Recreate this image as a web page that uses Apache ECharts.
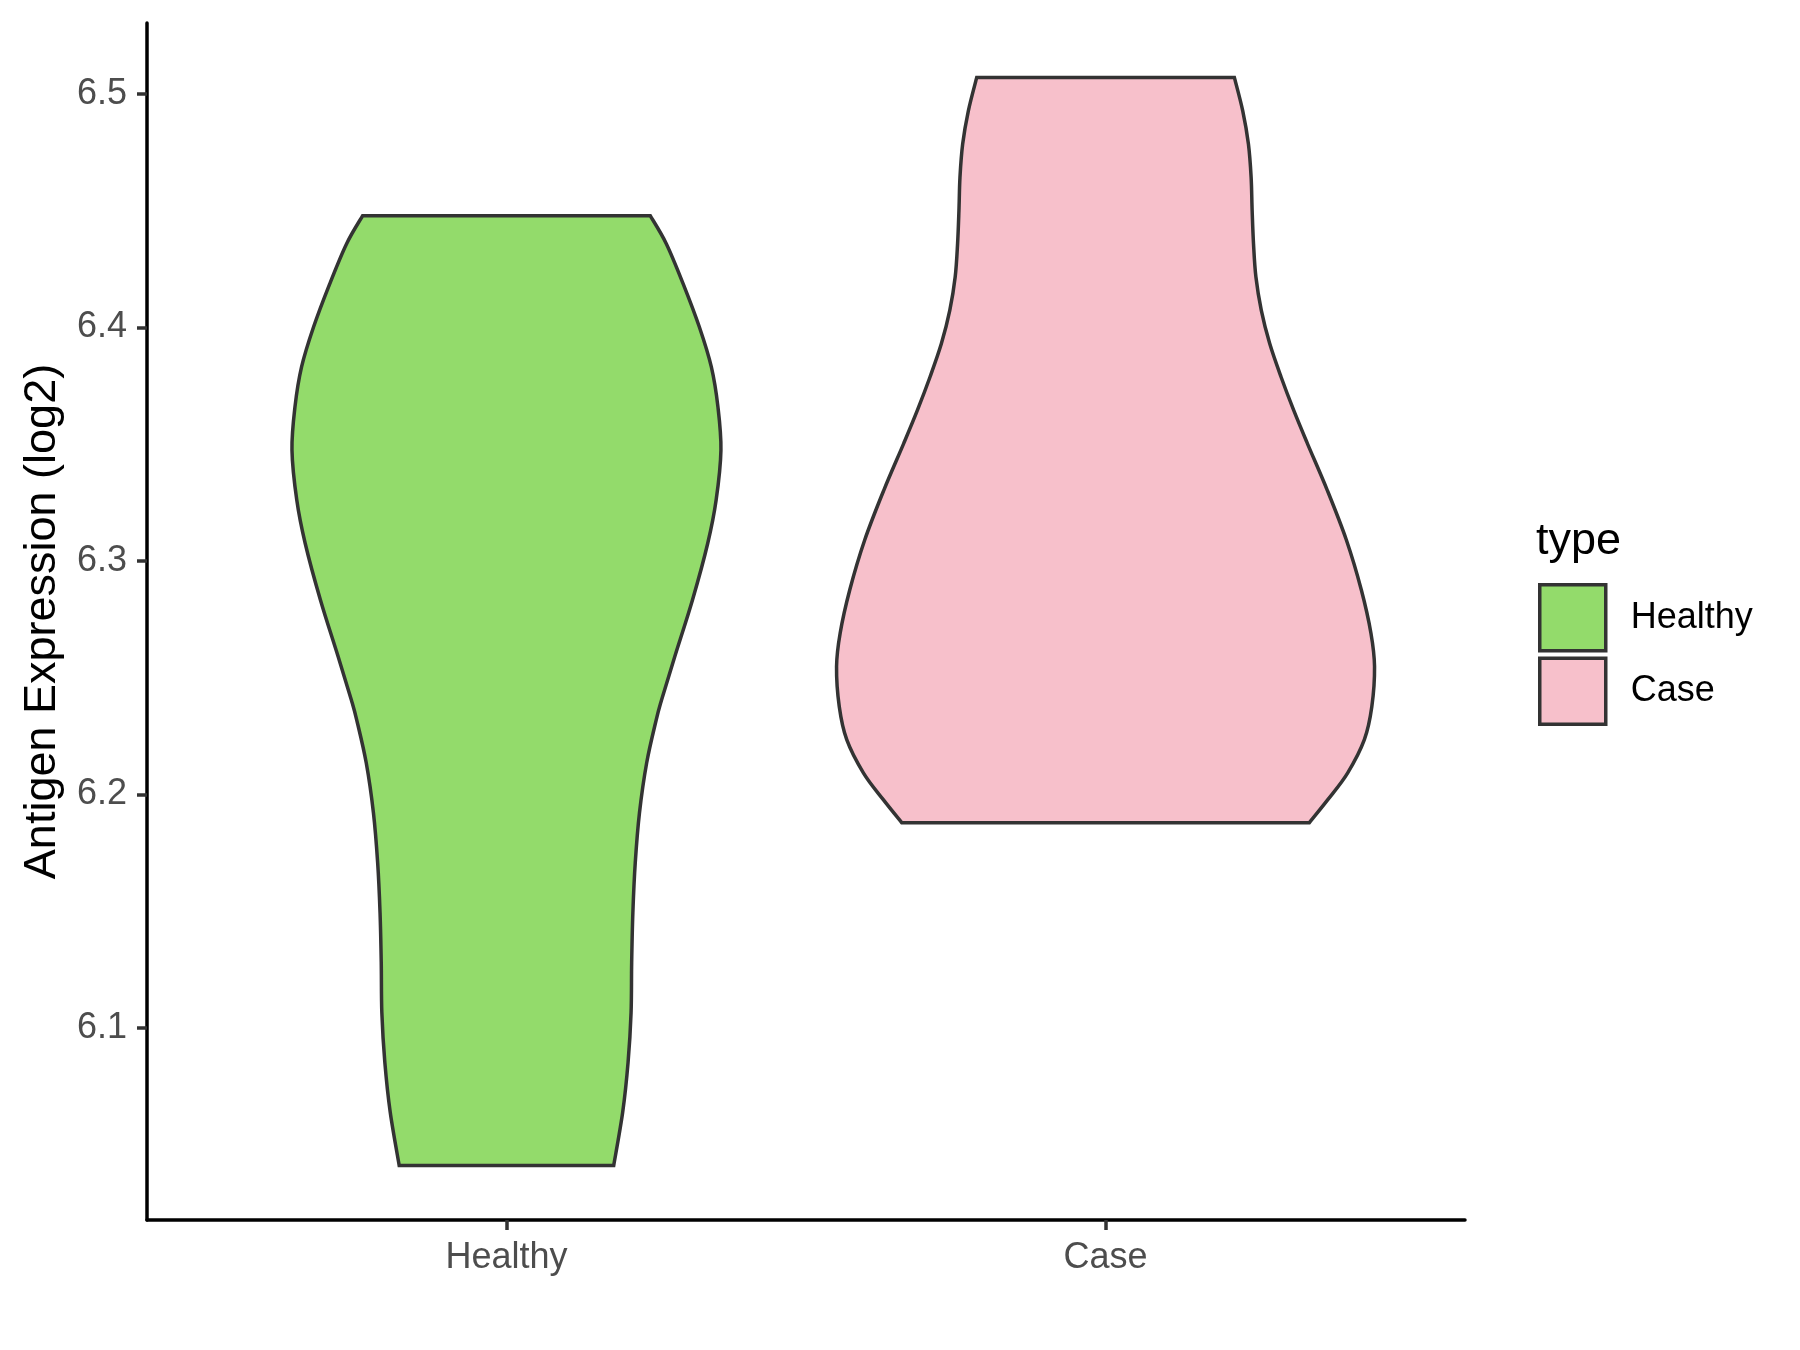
<!DOCTYPE html>
<html>
<head>
<meta charset="utf-8">
<script src="https://cdn.jsdelivr.net/npm/echarts@6/dist/echarts.min.js"></script>
<style>
html,body{margin:0;padding:0;background:#fff;}
#chart{width:1800px;height:1350px;}
</style>
</head>
<body>
<div id="chart"></div>
<script>
const categories = ['Healthy', 'Case'];
const yTicks = [6.1, 6.2, 6.3, 6.4, 6.5];
const colors = ['#93DB6B', '#F7C0CB'];

// Violin outlines: y value and half-width (in category units), top to bottom
const healthyY = [6.4478, 6.4357, 6.4186, 6.4001, 6.3830, 6.3659, 6.3474, 6.3260, 6.3075, 6.2832, 6.2590, 6.2405, 6.2319, 6.2134, 6.1920, 6.1707, 6.1493, 6.1279, 6.1065, 6.0852, 6.0638, 6.0410];
const healthyW = [0.240, 0.267, 0.295, 0.322, 0.342, 0.353, 0.358, 0.350, 0.336, 0.3105, 0.281, 0.259, 0.250, 0.234, 0.222, 0.215, 0.211, 0.209, 0.208, 0.203, 0.194, 0.179];
const caseY = [6.5070, 6.4927, 6.4785, 6.4642, 6.4500, 6.4357, 6.4215, 6.4072, 6.3930, 6.3787, 6.3645, 6.3502, 6.3303, 6.3089, 6.2875, 6.2690, 6.2547, 6.2376, 6.2234, 6.2091, 6.1977, 6.1878];
const caseW = [0.215, 0.229, 0.2385, 0.243, 0.2447, 0.247, 0.251, 0.260, 0.274, 0.293, 0.314, 0.337, 0.370, 0.402, 0.427, 0.443, 0.449, 0.4445, 0.432, 0.404, 0.371, 0.340];

const FONT = "'Liberation Sans', Arial, sans-serif";

function crPath(pts) {
  let d = '';
  const n = pts.length;
  for (let i = 0; i < n - 1; i++) {
    const p0 = pts[Math.max(i - 1, 0)], p1 = pts[i], p2 = pts[i + 1], p3 = pts[Math.min(i + 2, n - 1)];
    const c1 = [p1[0] + (p2[0] - p0[0]) / 6, p1[1] + (p2[1] - p0[1]) / 6];
    const c2 = [p2[0] - (p3[0] - p1[0]) / 6, p2[1] - (p3[1] - p1[1]) / 6];
    d += ' C ' + c1[0] + ' ' + c1[1] + ' ' + c2[0] + ' ' + c2[1] + ' ' + p2[0] + ' ' + p2[1];
  }
  return d;
}

function makeViolin(name, idx, ys, ws, color) {
  const cx = idx + 1;
  const data = ys.map((y, i) => [cx, y, ws[i]]);
  return {
    name: name,
    type: 'custom',
    itemStyle: { color: color, borderColor: '#333', borderWidth: 3.5 },
    data: data,
    renderItem: function (params, api) {
      if (params.dataIndex !== 0) return;
      const left = data.map(p => api.coord([p[0] - p[2], p[1]]));
      const right = data.slice().reverse().map(p => api.coord([p[0] + p[2], p[1]]));
      let d = 'M ' + left[0][0] + ' ' + left[0][1] + crPath(left);
      d += ' L ' + right[0][0] + ' ' + right[0][1] + crPath(right) + ' Z';
      return {
        type: 'path',
        shape: { pathData: d },
        style: { fill: color, stroke: '#333333', lineWidth: 3.5, lineJoin: 'miter' }
      };
    }
  };
}

const chart = echarts.init(document.getElementById('chart'), null, { renderer: 'canvas' });
chart.setOption({
  backgroundColor: '#ffffff',
  animation: false,
  title: {
    text: 'type', left: 1536, top: 519, padding: 0,
    textStyle: { fontFamily: FONT, fontSize: 45, fontWeight: 'normal', color: '#000' }
  },
  legend: {
    orient: 'vertical', left: 1538, top: 583, padding: 0,
    itemWidth: 66, itemHeight: 66, itemGap: 4, icon: 'rect',
    itemStyle: { borderColor: '#333', borderWidth: 3.5 },
    textStyle: { fontFamily: FONT, fontSize: 36, color: '#000', padding: [0, 0, 0, 20] },
    data: categories
  },
  grid: { left: 147, right: 335, top: 23, bottom: 130, containLabel: false },
  xAxis: {
    type: 'value', min: 0.4, max: 2.6,
    axisLine: { show: true, onZero: false, lineStyle: { color: '#000', width: 3.5 } },
    axisTick: { show: true, customValues: [1, 2], length: 10, lineStyle: { color: '#333', width: 3.5 } },
    axisLabel: {
      show: true, customValues: [1, 2], margin: 20,
      formatter: v => categories[Math.round(v) - 1] || '',
      fontFamily: FONT, fontSize: 36, color: '#4d4d4d'
    },
    splitLine: { show: false }
  },
  yAxis: {
    type: 'value', min: 6.0177, max: 6.5303,
    name: 'Antigen Expression (log2)', nameLocation: 'middle', nameGap: 82, nameRotate: 90,
    nameTextStyle: { fontFamily: FONT, fontSize: 45, color: '#000' },
    axisLine: { show: true, onZero: false, lineStyle: { color: '#000', width: 3.5 } },
    axisTick: { show: true, customValues: yTicks, length: 10, lineStyle: { color: '#333', width: 3.5 } },
    axisLabel: {
      show: true, customValues: yTicks, margin: 20,
      formatter: v => Number(v).toFixed(1),
      fontFamily: FONT, fontSize: 36, color: '#4d4d4d'
    },
    splitLine: { show: false }
  },
  series: [
    makeViolin('Healthy', 0, healthyY, healthyW, colors[0]),
    makeViolin('Case', 1, caseY, caseW, colors[1])
  ]
});
</script>
</body>
</html>
